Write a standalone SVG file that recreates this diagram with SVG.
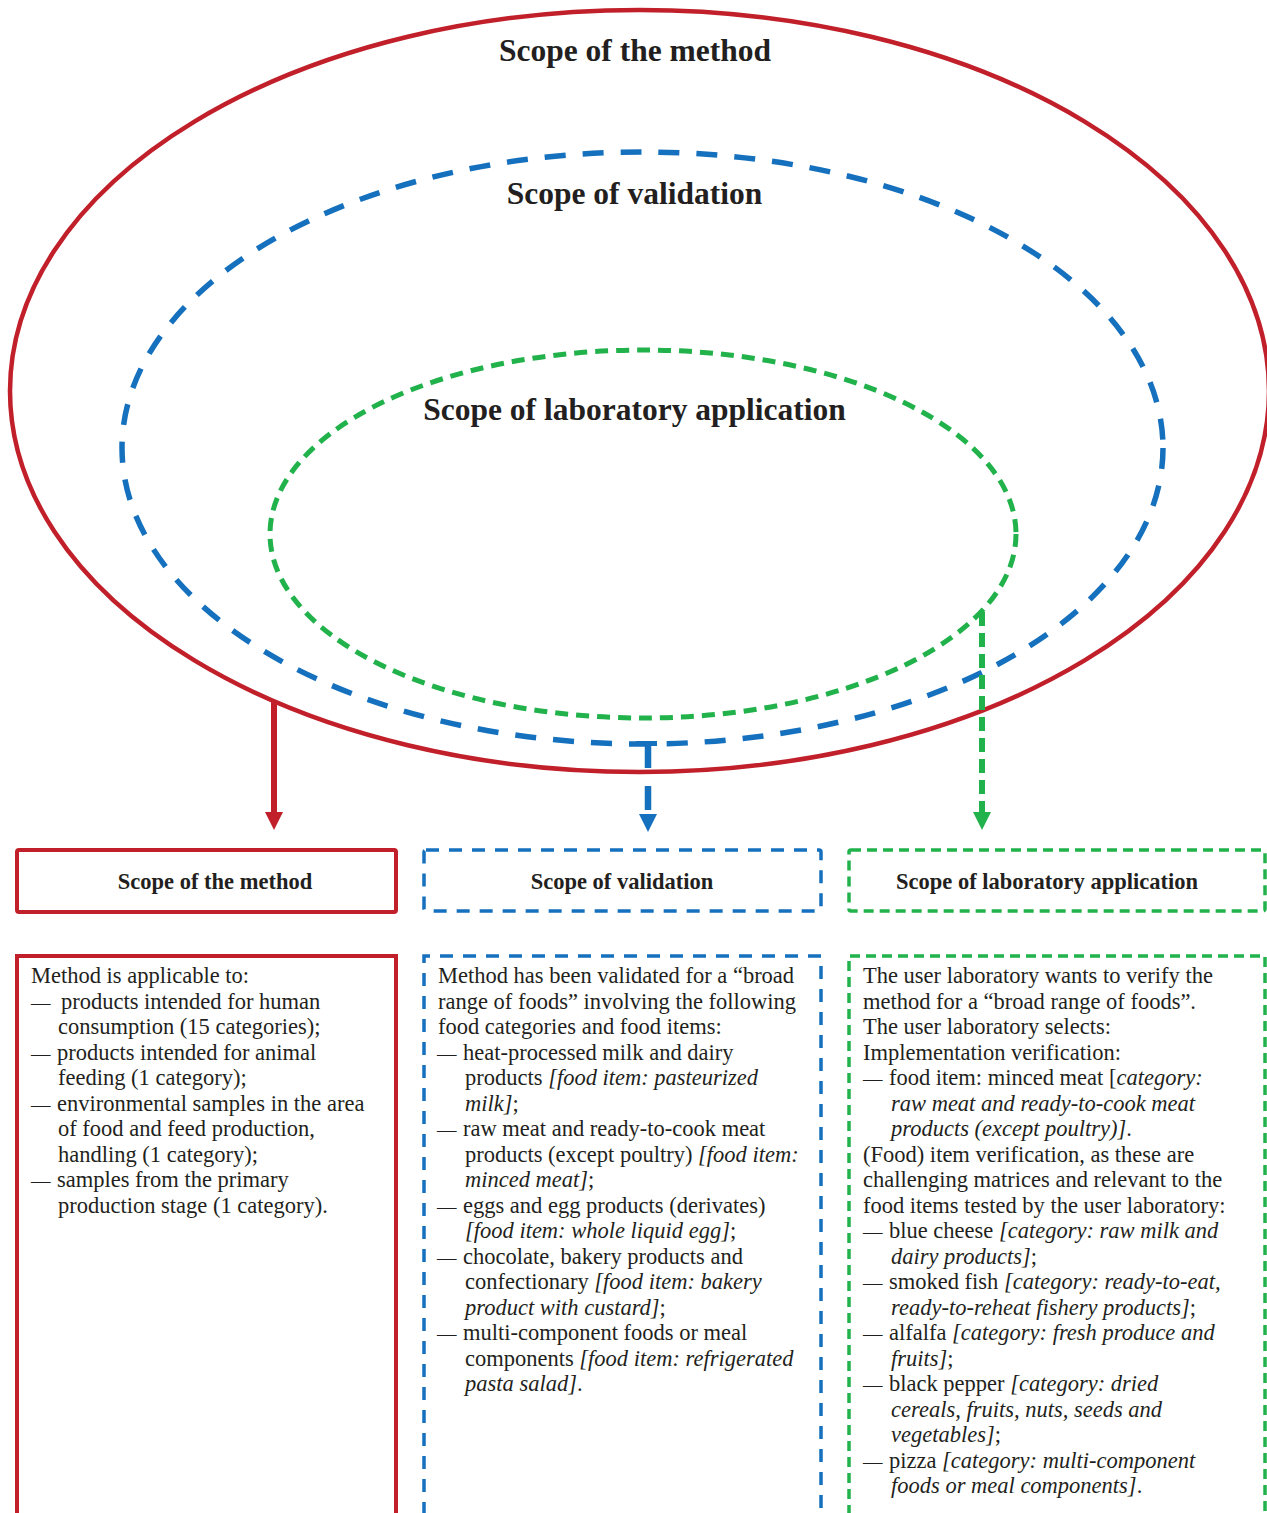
<svg xmlns="http://www.w3.org/2000/svg" width="1267" height="1513" viewBox="0 0 1267 1513">
<defs>
<style>
.t{font-family:"Liberation Serif","Times New Roman",serif;fill:#231f20}
.body{font-size:22.5px}
.h1{font-size:31.5px;font-weight:bold}
.h2{font-size:22.5px;font-weight:bold}
.i{font-style:italic}
.d{font-size:19.5px}
.red{stroke:#c1202b;fill:none}
.blue{stroke:#1570be;fill:none}
.green{stroke:#21b24b;fill:none}
</style>
</defs>
<rect width="1267" height="1513" fill="#fff"/>

<g id="scope-method-ellipse">
<ellipse cx="639.5" cy="391" rx="629.5" ry="381" class="red" stroke-width="4.5"/>
<text class="t h1" x="635" y="61" text-anchor="middle">Scope of the method</text>
</g>
<g id="scope-validation-ellipse">
<ellipse cx="642.5" cy="448" rx="520.5" ry="296" class="blue" stroke-width="5.5" stroke-dasharray="21 17"/>
<text class="t h1" x="634.5" y="204" text-anchor="middle">Scope of validation</text>
</g>
<g id="scope-lab-ellipse">
<ellipse cx="643" cy="534" rx="373" ry="184" class="green" stroke-width="5" stroke-dasharray="13 8"/>
<text class="t h1" x="634.5" y="419.5" text-anchor="middle">Scope of laboratory application</text>
</g>

<g id="connectors">
<line x1="274" y1="701" x2="274" y2="813" class="red" stroke-width="6"/>
<path d="M265 812 L283 812 L274 830 Z" fill="#c1202b"/>
<path d="M636 743.5 H657" class="blue" stroke-width="5"/>
<line x1="648" y1="744" x2="648" y2="812" class="blue" stroke-width="6.5" stroke-dasharray="24 18"/>
<path d="M639 814 L657 814 L648 832 Z" fill="#1570be"/>
<line x1="982" y1="612" x2="982" y2="812" class="green" stroke-width="6" stroke-dasharray="14 7"/>
<path d="M973 812 L991 812 L982 830 Z" fill="#21b24b"/>
</g>

<g id="title-method">
<rect x="17" y="850" width="379" height="62" rx="2" class="red" stroke-width="4"/>
<text class="t h2" x="215" y="889" text-anchor="middle">Scope of the method</text>
</g>
<g id="title-validation">
<rect x="424" y="850" width="397" height="61" rx="2" class="blue" stroke-width="3.5" stroke-dasharray="13 10"/>
<text class="t h2" x="622" y="889" text-anchor="middle">Scope of validation</text>
</g>
<g id="title-lab">
<rect x="849" y="850" width="416" height="61" rx="2" class="green" stroke-width="3.5" stroke-dasharray="10 6"/>
<text class="t h2" x="1047" y="889" text-anchor="middle">Scope of laboratory application</text>
</g>

<g id="content-method">
<path d="M17 1515 V956 H396 V1515" class="red" stroke-width="4"/>
<text class="t body">
<tspan x="31" y="983">Method is applicable to:</tspan>
<tspan x="31" y="1008.5" class="d">—</tspan><tspan x="61" y="1008.5">products intended for human</tspan>
<tspan x="58" y="1034">consumption (15 categories);</tspan>
<tspan x="31" y="1059.5" class="d">—</tspan><tspan x="57" y="1059.5">products intended for animal</tspan>
<tspan x="58" y="1085">feeding (1 category);</tspan>
<tspan x="31" y="1110.5" class="d">—</tspan><tspan x="57" y="1110.5">environmental samples in the area</tspan>
<tspan x="58" y="1136">of food and feed production,</tspan>
<tspan x="58" y="1161.5">handling (1 category);</tspan>
<tspan x="31" y="1187" class="d">—</tspan><tspan x="57" y="1187">samples from the primary</tspan>
<tspan x="58" y="1212.5">production stage (1 category).</tspan>
</text>
</g>

<g id="content-validation">
<path d="M424 1515 V956 H821 V1515" class="blue" stroke-width="3.5" stroke-dasharray="13 10"/>
<text class="t body">
<tspan x="438" y="983">Method has been validated for a “broad</tspan>
<tspan x="438" y="1008.5">range of foods” involving the following</tspan>
<tspan x="438" y="1034">food categories and food items:</tspan>
<tspan x="437" y="1059.5" class="d">—</tspan><tspan x="463" y="1059.5">heat-processed milk and dairy</tspan>
<tspan x="465" y="1085">products <tspan class="i">[food item: pasteurized</tspan></tspan>
<tspan x="465" y="1110.5"><tspan class="i">milk]</tspan>;</tspan>
<tspan x="437" y="1136" class="d">—</tspan><tspan x="463" y="1136">raw meat and ready-to-cook meat</tspan>
<tspan x="465" y="1161.5">products (except poultry) <tspan class="i">[food item:</tspan></tspan>
<tspan x="465" y="1187"><tspan class="i">minced meat]</tspan>;</tspan>
<tspan x="437" y="1212.5" class="d">—</tspan><tspan x="463" y="1212.5">eggs and egg products (derivates)</tspan>
<tspan x="465" y="1238"><tspan class="i">[food item: whole liquid egg]</tspan>;</tspan>
<tspan x="437" y="1263.5" class="d">—</tspan><tspan x="463" y="1263.5">chocolate, bakery products and</tspan>
<tspan x="465" y="1289">confectionary <tspan class="i">[food item: bakery</tspan></tspan>
<tspan x="465" y="1314.5"><tspan class="i">product with custard]</tspan>;</tspan>
<tspan x="437" y="1340" class="d">—</tspan><tspan x="463" y="1340">multi-component foods or meal</tspan>
<tspan x="465" y="1365.5">components <tspan class="i">[food item: refrigerated</tspan></tspan>
<tspan x="465" y="1391"><tspan class="i">pasta salad]</tspan>.</tspan>
</text>
</g>

<g id="content-lab">
<path d="M849 1515 V956 H1265 V1515" class="green" stroke-width="3.5" stroke-dasharray="10 6"/>
<text class="t body">
<tspan x="863" y="983">The user laboratory wants to verify the</tspan>
<tspan x="863" y="1008.5">method for a “broad range of foods”.</tspan>
<tspan x="863" y="1034">The user laboratory selects:</tspan>
<tspan x="863" y="1059.5">Implementation verification:</tspan>
<tspan x="863" y="1085" class="d">—</tspan><tspan x="889" y="1085">food item: minced meat [<tspan class="i">category:</tspan></tspan>
<tspan x="891" y="1110.5" class="i">raw meat and ready-to-cook meat</tspan>
<tspan x="891" y="1136"><tspan class="i">products (except poultry)]</tspan>.</tspan>
<tspan x="863" y="1161.5">(Food) item verification, as these are</tspan>
<tspan x="863" y="1187">challenging matrices and relevant to the</tspan>
<tspan x="863" y="1212.5">food items tested by the user laboratory:</tspan>
<tspan x="863" y="1238" class="d">—</tspan><tspan x="889" y="1238">blue cheese <tspan class="i">[category: raw milk and</tspan></tspan>
<tspan x="891" y="1263.5"><tspan class="i">dairy products]</tspan>;</tspan>
<tspan x="863" y="1289" class="d">—</tspan><tspan x="889" y="1289">smoked fish <tspan class="i">[category: ready-to-eat,</tspan></tspan>
<tspan x="891" y="1314.5"><tspan class="i">ready-to-reheat fishery products]</tspan>;</tspan>
<tspan x="863" y="1340" class="d">—</tspan><tspan x="889" y="1340">alfalfa <tspan class="i">[category: fresh produce and</tspan></tspan>
<tspan x="891" y="1365.5"><tspan class="i">fruits]</tspan>;</tspan>
<tspan x="863" y="1391" class="d">—</tspan><tspan x="889" y="1391">black pepper <tspan class="i">[category: dried</tspan></tspan>
<tspan x="891" y="1416.5" class="i">cereals, fruits, nuts, seeds and</tspan>
<tspan x="891" y="1442"><tspan class="i">vegetables]</tspan>;</tspan>
<tspan x="863" y="1467.5" class="d">—</tspan><tspan x="889" y="1467.5">pizza <tspan class="i">[category: multi-component</tspan></tspan>
<tspan x="891" y="1493"><tspan class="i">foods or meal components]</tspan>.</tspan>
</text>
</g>
</svg>
